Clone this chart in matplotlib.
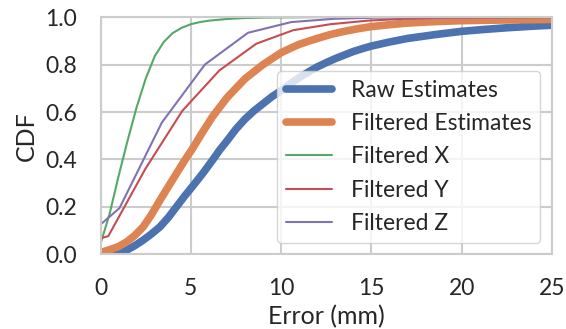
import numpy as np
import matplotlib
matplotlib.use("Agg")
import matplotlib.pyplot as plt
import seaborn as sns

sns.set_theme(style="whitegrid")
plt.rcParams['font.family'] = ['Lato', 'DejaVu Sans']

# values
raw_x = [0, 0.8, 1.0, 1.45, 1.9, 2.36, 2.8, 3.29, 3.75, 4.2, 4.65, 5.13, 5.7,
         6.23, 6.6, 7.0, 7.5, 8.0, 8.5, 9.0, 9.5, 10.0, 10.5, 11.0, 11.5, 12.0,
         12.5, 13.0, 13.5, 14.0, 14.5, 15.0, 16.0, 17.0, 18.5, 20.0, 21.25,
         22.5, 23.75, 25.0]
raw_y = [0.0, 0.0, 0.004, 0.018, 0.037, 0.06, 0.085, 0.116, 0.155, 0.2, 0.245,
         0.29, 0.345, 0.40, 0.44, 0.478, 0.528, 0.57, 0.605, 0.635, 0.665,
         0.69, 0.718, 0.745, 0.768, 0.79, 0.808, 0.825, 0.84, 0.855, 0.867,
         0.878, 0.895, 0.91, 0.926, 0.94, 0.948, 0.955, 0.961, 0.966]

filt_x = [0, 0.52, 1.0, 1.45, 1.9, 2.36, 2.8, 3.29, 3.75, 4.2, 4.65, 5.13, 5.65,
          6.2, 6.6, 7.0, 7.5, 8.0, 8.5, 9.0, 9.5, 10.0, 10.5, 11.0, 11.5, 12.0,
          12.75, 13.5, 14.25, 15.0, 16.0, 17.0, 18.5, 20.0, 22.5, 25.0]
filt_y = [0.008, 0.02, 0.033, 0.053, 0.08, 0.116, 0.165, 0.228, 0.285, 0.34,
          0.395, 0.45, 0.515, 0.58, 0.62, 0.66, 0.70, 0.74, 0.77, 0.80, 0.825,
          0.85, 0.868, 0.885, 0.898, 0.91, 0.927, 0.94, 0.951, 0.96, 0.968,
          0.975, 0.981, 0.985, 0.988, 0.99]

fx_x = [0, 0.5, 1.0, 1.5, 2.0, 2.5, 3.0, 3.5, 4.0, 4.5, 5.0, 5.5, 6.0, 7.0,
        8.0, 9.0, 10.5, 12.0, 25.0]
fx_y = [0.045, 0.17, 0.33, 0.48, 0.62, 0.74, 0.835, 0.895, 0.933, 0.955, 0.97,
        0.979, 0.985, 0.992, 0.996, 0.998, 0.999, 1.0, 1.0]

fy_x = [0, 0.43, 2.48, 4.53, 6.58, 8.63, 10.68, 12.73, 14.78, 16.83, 18.9, 25.0]
fy_y = [0.068, 0.077, 0.36, 0.605, 0.775, 0.888, 0.945, 0.97, 0.985, 0.993,
        0.997, 1.0]

fz_x = [0, 1.05, 3.4, 5.78, 8.17, 10.56, 12.95, 15.4, 25.0]
fz_y = [0.126, 0.195, 0.556, 0.80, 0.934, 0.979, 0.993, 0.998, 1.0]

pal = sns.color_palette("deep")

fig, ax = plt.subplots(figsize=(5.66, 3.29), dpi=100)
fig.subplots_adjust(left=0.1776, right=0.975, bottom=0.2267, top=0.948)

ax.plot(raw_x, raw_y, color=pal[0], lw=5.5, label="Raw Estimates",
        solid_capstyle="round")
ax.plot(filt_x, filt_y, color=pal[1], lw=5.5, label="Filtered Estimates",
        solid_capstyle="round")
ax.plot(fx_x, fx_y, color=pal[2], lw=1.5, label="Filtered X")
ax.plot(fy_x, fy_y, color=pal[3], lw=1.5, label="Filtered Y")
ax.plot(fz_x, fz_y, color=pal[4], lw=1.5, label="Filtered Z")

ax.set_xlim(0, 25)
ax.set_ylim(0, 1.0)
ax.set_xticks([0, 5, 10, 15, 20, 25])
ax.set_yticks([0.0, 0.2, 0.4, 0.6, 0.8, 1.0])
ax.tick_params(axis='both', labelsize=16.5, pad=11, colors='#262626')
ax.set_xlabel("Error (mm)", fontsize=18, color='#262626', labelpad=4)
ax.set_ylabel("CDF", fontsize=18, color='#262626', labelpad=5)
for s in ax.spines.values():
    s.set_color('#cccccc')
    s.set_linewidth(1.5)
ax.grid(True, color='#cccccc', lw=1.5)

ax.legend(loc="lower right", fontsize=16.5, frameon=True, handlelength=2.0,
          labelspacing=0.53)

fig.savefig("out.png", dpi=100)
